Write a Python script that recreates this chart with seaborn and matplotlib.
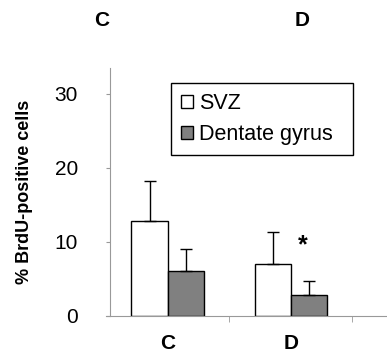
import pandas as pd
import seaborn as sns
import matplotlib.pyplot as plt

# values
groups = ["C", "D"]
regions = ["SVZ", "Dentate gyrus"]
svz_mean = [12.8, 7.0]
svz_err = [5.4, 4.3]
dg_mean = [6.0, 2.8]
dg_err = [3.0, 1.9]
y_ticks = [0, 10, 20, 30]


def build_frame():
    rows = []
    for i, g in enumerate(groups):
        rows.append({"group": g, "region": regions[0], "value": svz_mean[i], "err": svz_err[i]})
        rows.append({"group": g, "region": regions[1], "value": dg_mean[i], "err": dg_err[i]})
    return pd.DataFrame(rows)


def main():
    sns.set_style("white")
    plt.rcParams["font.family"] = ["Liberation Sans", "DejaVu Sans"]
    plt.rcParams["text.color"] = "black"
    plt.rcParams["axes.labelcolor"] = "black"
    plt.rcParams["xtick.labelcolor"] = "black"
    plt.rcParams["ytick.labelcolor"] = "black"

    df = build_frame()
    fig = plt.figure(figsize=(3.87, 3.53), dpi=100)
    ax = fig.add_axes([106 / 387, 1 - 315.5 / 353, 1 - 106 / 387, (315.5 - 68) / 353])

    sns.barplot(data=df, x="group", y="value", hue="region", hue_order=regions,
                palette=["white", "#808080"], edgecolor="black", linewidth=1,
                width=0.587, gap=0, errorbar=None, legend=True, ax=ax)

    # error bars: only the upper half, drawn on top of each bar
    for bars, region in zip(ax.containers, regions):
        sub = df[df["region"] == region]
        xs = [b.get_x() + b.get_width() / 2 for b in bars]
        ax.errorbar(xs, sub["value"], yerr=[[0] * len(xs), list(sub["err"])],
                    fmt="none", ecolor="black", elinewidth=1, capsize=4, capthick=1)

    ax.text(1.1, 9.5, "*", ha="center", va="center", fontsize=18, fontweight="bold")

    # spine position first, it resets the axis ticks
    for side in ["top", "right"]:
        ax.spines[side].set_visible(False)
    ax.spines["left"].set_position(("data", -0.468))
    for side in ["left", "bottom"]:
        ax.spines[side].set_color("#999999")
        ax.spines[side].set_linewidth(0.8)

    ax.set_xlim(-0.5, 1.78)
    ax.set_ylim(0, 33.5)
    ax.set_yticks(y_ticks)
    ax.set_yticklabels([str(t) for t in y_ticks], fontsize=15)
    ax.set_xticks([0, 1])
    ax.set_xticklabels(groups, fontsize=15, fontweight="bold")
    ax.tick_params(axis="x", which="major", length=0, pad=13)
    ax.tick_params(axis="y", length=3, color="#999999", direction="out", left=True, pad=20)
    # boundary ticks between categories
    ax.set_xticks([0.5, 1.5], minor=True)
    ax.tick_params(axis="x", which="minor", length=4, color="#999999", direction="out", bottom=True)

    ax.set_xlabel("")
    ax.set_ylabel("% BrdU-positive cells", fontsize=13, fontweight="bold")
    ax.yaxis.set_label_coords(-0.26, 0.5)

    leg = ax.legend(loc="upper left", mode="expand",
                    bbox_to_anchor=(171 / 387, 1 - 148 / 353, 182 / 387, 65 / 353),
                    bbox_transform=fig.transFigure, fontsize=15.5, frameon=True,
                    fancybox=False, edgecolor="black", framealpha=1,
                    handlelength=0.55, handleheight=0.55, handletextpad=0.3,
                    borderpad=0.45, labelspacing=0.5, borderaxespad=0)
    leg.get_frame().set_linewidth(1)

    fig.text(102 / 387, 1 - 20 / 353, "C", ha="center", va="center", fontsize=15, fontweight="bold")
    fig.text(302 / 387, 1 - 20 / 353, "D", ha="center", va="center", fontsize=15, fontweight="bold")

    fig.savefig("out.png", dpi=100)


if __name__ == "__main__":
    main()
